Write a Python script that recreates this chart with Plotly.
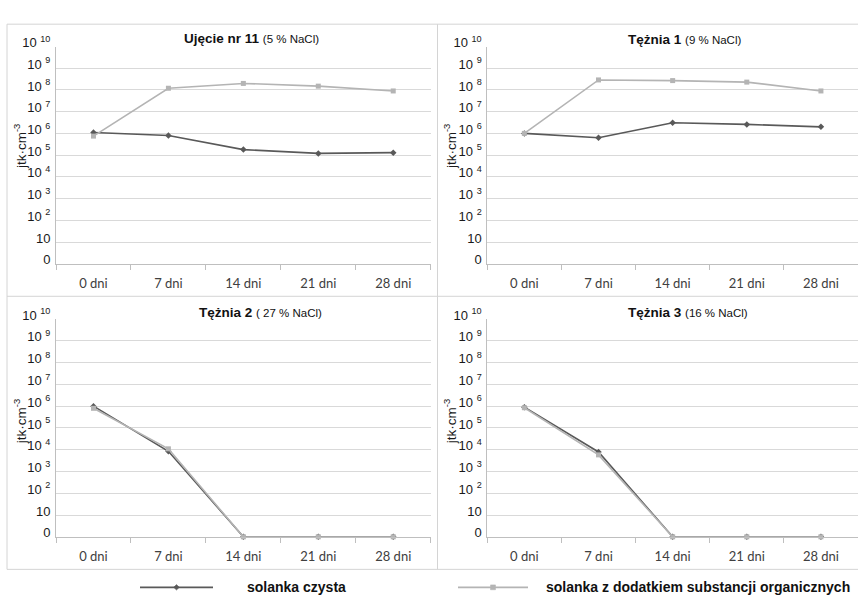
import plotly.graph_objects as go

# Bacterial counts (jtk/cm3) over the incubation period
days = ["0 dni", "7 dni", "14 dni", "21 dni", "28 dni"]

ujecie11_czysta = [1.1e6, 8.0e5, 1.8e5, 1.2e5, 1.3e5]
ujecie11_org = [7.5e5, 1.2e8, 2.0e8, 1.5e8, 9.0e7]

teznia1_czysta = [1.0e6, 6.3e5, 3.1e6, 2.6e6, 2.0e6]
teznia1_org = [1.0e6, 2.9e8, 2.7e8, 2.3e8, 9.0e7]

teznia2_czysta = [1.0e6, 8.5e3, 0, 0, 0]
teznia2_org = [8.0e5, 1.1e4, 0, 0, 0]

teznia3_czysta = [9.0e5, 7.9e3, 0, 0, 0]
teznia3_org = [8.5e5, 5.8e3, 0, 0, 0]

panel_names = ["Ujęcie nr 11", "Tężnia 1", "Tężnia 2", "Tężnia 3"]
panel_salinity = ["(5 % NaCl)", "(9 % NaCl)", "( 27 % NaCl)", "(16 % NaCl)"]

series_names = ["solanka czysta", "solanka z dodatkiem substancji organicznych"]

# y tick labels: the bottom decade (10^0) is labelled "0"
exponents = list(range(0, 11))
tick_vals = [10 ** k for k in exponents]
tick_text = ["0", "10"] + [f"10 <sup>{k}</sup>" for k in exponents[2:]]

W, H = 858, 603
FONT = "Liberation Sans, Arial, sans-serif"
DARK = "#595959"
LIGHT = "#b4b4b4"
GRID = "#d9d9d9"
AXIS = "#bfbfbf"
FRAME = "#d4d4d4"


def px(x):
    return x / W


def py(y):
    return 1 - y / H


def floor_zero(vals):
    # zero counts are drawn on the axis floor (10^0, labelled "0")
    return [v if v > 0 else 1 for v in vals]


data = [
    (ujecie11_czysta, ujecie11_org),
    (teznia1_czysta, teznia1_org),
    (teznia2_czysta, teznia2_org),
    (teznia3_czysta, teznia3_org),
]

# plot-area boxes in pixels: (left, right, top, bottom)
boxes = [
    (56, 430.7, 34.5, 258),
    (487.3, 858, 34.5, 258),
    (56, 430.7, 315, 539),
    (487.3, 858, 315, 539),
]

fig = go.Figure()

for i, ((czysta, org), (l, r, t, b)) in enumerate(zip(data, boxes)):
    n = "" if i == 0 else str(i + 1)
    xa, ya = "x" + n, "y" + n
    fig.add_trace(go.Scatter(
        x=days, y=floor_zero(czysta), name=series_names[0], xaxis=xa, yaxis=ya,
        mode="lines+markers", line=dict(color=DARK, width=1.6),
        marker=dict(symbol="diamond", size=5, color=DARK),
        cliponaxis=False, showlegend=False))
    fig.add_trace(go.Scatter(
        x=days, y=floor_zero(org), name=series_names[1], xaxis=xa, yaxis=ya,
        mode="lines+markers", line=dict(color=LIGHT, width=1.6),
        marker=dict(symbol="square", size=5, color=LIGHT),
        cliponaxis=False, showlegend=False))

    fig.layout["xaxis" + n] = dict(
        domain=[px(l), px(r)], anchor=ya, type="category",
        categoryorder="array", categoryarray=days, range=[-0.5, 4.5],
        tickson="boundaries", ticks="outside", ticklen=5, tickcolor=AXIS,
        showline=True, linecolor=AXIS, linewidth=1, showgrid=False,
        zeroline=False, tickfont=dict(family="Lato, sans-serif", size=13, color="#404040"),
        ticklabelstandoff=8, fixedrange=True)
    fig.layout["yaxis" + n] = dict(
        domain=[py(b), py(t)], anchor=xa, type="log", range=[0, 10],
        tickmode="array", tickvals=tick_vals, ticktext=tick_text,
        showgrid=True, gridcolor=GRID, gridwidth=1,
        showline=True, linecolor=AXIS, linewidth=1, ticks="",
        zeroline=False, tickfont=dict(family=FONT, size=13, color="#1a1a1a"),
        ticklabelshift=-4, ticklabelstandoff=2, fixedrange=True)

annotations = []
shapes = []

# panel titles
title_pos = [(181.7, 26.7), (626.3, 27), (196.7, 308), (626.3, 308)]
for name, sal, (x, y) in zip(panel_names, panel_salinity, title_pos):
    annotations.append(dict(
        x=px(x), y=py(y), xref="paper", yref="paper", xanchor="left", yanchor="middle",
        showarrow=False, font=dict(family=FONT, size=13.5, color="#111111"),
        text=f"<b>{name}</b> <span style='font-size:11.5px'>{sal}</span>"))

# y-axis titles
for x, y in [(20, 138), (450, 138), (20, 421), (450, 421)]:
    annotations.append(dict(
        x=px(x), y=py(y), xref="paper", yref="paper", xanchor="center", yanchor="middle",
        showarrow=False, textangle=-90, font=dict(family=FONT, size=13.5, color="#1a1a1a"),
        text="jtk·cm<sup>-3</sup>"))

# outer frame and dividers between the four charts
frame = dict(type="line", xref="paper", yref="paper", line=dict(color=FRAME, width=1))
shapes.append(dict(type="rect", xref="paper", yref="paper",
                   x0=px(7), x1=px(862), y0=py(572.5), y1=py(11.5),
                   line=dict(color=FRAME, width=1), layer="below"))
shapes.append(dict(frame, x0=px(437.5), x1=px(437.5), y0=py(572.5), y1=py(11.5)))
shapes.append(dict(frame, x0=px(7), x1=px(862), y0=py(291.5), y1=py(291.5)))

# legend below the charts
leg_y = 591
legend_items = [
    (140, 213, DARK, "diamond", 245, "left"),
    (458, 528, LIGHT, "square", 852, "right"),
]
for (x0, x1, col, sym, tx, anchor), label in zip(legend_items, series_names):
    shapes.append(dict(type="line", xref="paper", yref="paper",
                       x0=px(x0), x1=px(x1), y0=py(leg_y), y1=py(leg_y),
                       line=dict(color=col, width=1.6)))
    cx = (x0 + x1) / 2
    s = 2.8
    if sym == "diamond":
        path = (f"M {px(cx)},{py(leg_y - s)} L {px(cx + s)},{py(leg_y)} "
                f"L {px(cx)},{py(leg_y + s)} L {px(cx - s)},{py(leg_y)} Z")
        shapes.append(dict(type="path", xref="paper", yref="paper", path=path,
                           fillcolor=col, line=dict(color=col, width=0.5)))
    else:
        shapes.append(dict(type="rect", xref="paper", yref="paper",
                           x0=px(cx - 2.5), x1=px(cx + 2.5), y0=py(leg_y + 2.5), y1=py(leg_y - 2.5),
                           fillcolor=col, line=dict(color=col, width=0.5)))
    annotations.append(dict(
        x=px(tx), y=py(leg_y), xref="paper", yref="paper", xanchor=anchor, yanchor="middle",
        showarrow=False, font=dict(family=FONT, size=14, color="#111111"),
        text=f"<b>{label}</b>"))

fig.update_layout(
    width=W, height=H, margin=dict(l=0, r=0, t=0, b=0),
    paper_bgcolor="white", plot_bgcolor="white",
    showlegend=False, annotations=annotations, shapes=shapes,
    font=dict(family=FONT),
)

fig.write_html("out.html")
